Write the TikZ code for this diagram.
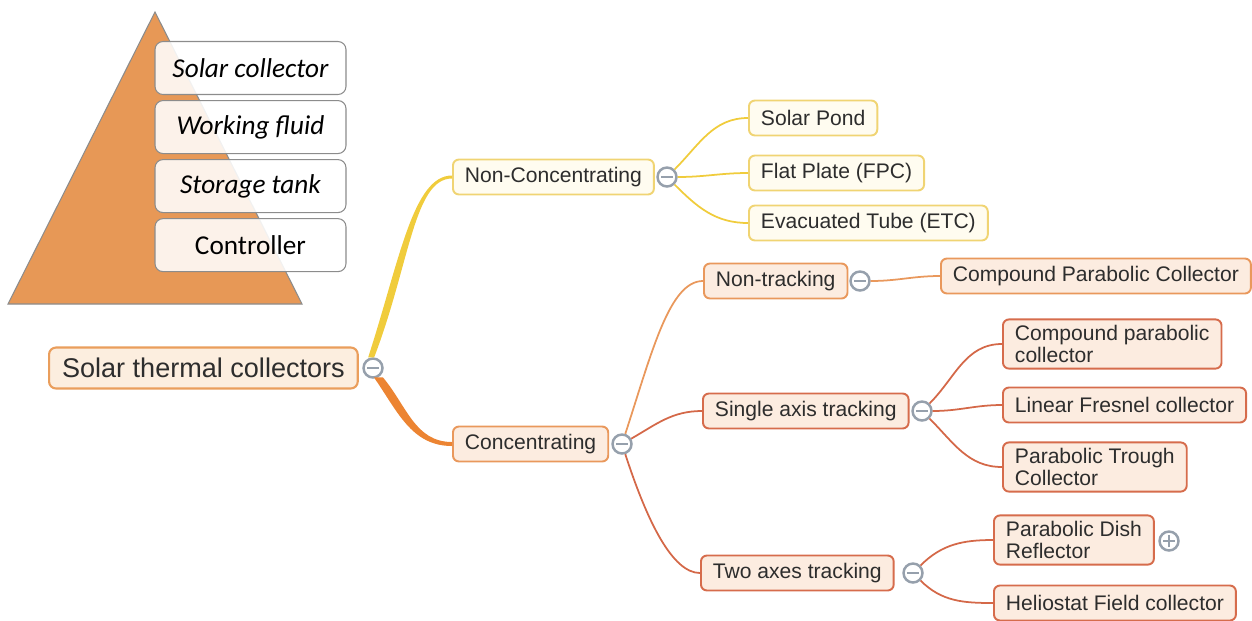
\documentclass[tikz,border=0pt]{standalone}
\usepackage{fontspec}
\setmainfont{Liberation Sans}
\newfontfamily\pyrfont{Carlito}
\usetikzlibrary{positioning,calc}

\definecolor{pyrorange}{RGB}{231,152,86}
\definecolor{pyrline}{RGB}{140,140,140}
\definecolor{rootline}{RGB}{234,158,92}
\definecolor{rootfill}{RGB}{252,238,223}
\definecolor{yelline}{RGB}{240,204,60}
\definecolor{yelbox}{RGB}{240,212,115}
\definecolor{yelfill}{RGB}{255,252,240}
\definecolor{orline}{RGB}{236,132,50}
\definecolor{orbox}{RGB}{233,152,92}
\definecolor{orfill}{RGB}{252,236,224}
\definecolor{redbox}{RGB}{214,108,76}
\definecolor{redline}{RGB}{212,104,72}
\definecolor{togline}{RGB}{150,160,172}
\definecolor{txt}{RGB}{45,45,45}

\begin{document}
\begin{tikzpicture}[x=0.02cm, y=0.02cm,
    pyrbox/.style={rectangle, rounded corners=0.16cm, draw=pyrline, fill=white, fill opacity=0.88,
      text opacity=1, line width=0.6pt, minimum width=3.82cm, minimum height=1.06cm,
      font=\pyrfont\fontsize{15.5}{18}\selectfont},
    topic/.style={rectangle, rounded corners=0.14cm, draw=rootline, fill=rootfill, line width=1.2pt,
      anchor=west, inner xsep=0.26cm, minimum height=0.82cm, text=txt, font=\fontsize{15.4}{18}\selectfont},
    item/.style={rectangle, rounded corners=0.12cm, line width=1.1pt, anchor=west, inner xsep=0.24cm,
      minimum height=0.7cm, align=left, text=txt, font=\fontsize{12}{12.5}\selectfont},
    yitem/.style={item, draw=yelbox, fill=yelfill},
    oitem/.style={item, draw=orbox, fill=orfill},
    ritem/.style={item, draw=redbox, fill=orfill},
    toggle/.style={circle, draw=togline, fill=white, line width=1.4pt, minimum size=0.38cm, inner sep=0pt,
      path picture={\draw[togline, line width=0.8pt] ([xshift=-0.12cm]path picture bounding box.center)
        -- ([xshift=0.12cm]path picture bounding box.center);}},
    plustoggle/.style={toggle, path picture={\draw[togline, line width=0.8pt]
        ([xshift=-0.12cm]path picture bounding box.center) -- ([xshift=0.12cm]path picture bounding box.center)
        ([yshift=-0.12cm]path picture bounding box.center) -- ([yshift=0.12cm]path picture bounding box.center);}},
    link/.style={line width=1pt},
    steep/.style={out looseness=1.3, in looseness=0.5}]

    \useasboundingbox (0,0) rectangle (1252,-620);

    % pyramid
    \filldraw[fill=pyrorange, draw=pyrline, line width=0.6pt] (155,-12) -- (302,-304) -- (8,-304) -- cycle;
    \node[pyrbox] (sc) at (250.5,-68) {\itshape Solar collector};
    \node[pyrbox, below=0.1cm of sc] (wf) {\itshape Working fluid};
    \node[pyrbox, below=0.1cm of wf] (st) {\itshape Storage tank};
    \node[pyrbox, below=0.1cm of st] (ctl) {Controller};

    % root
    \node[topic] (root) at (48,-368) {Solar thermal collectors};
    \node[toggle] (rt) at (373,-368) {};

    % non-concentrating
    \node[yitem] (nc) at (452,-177) {Non-Concentrating};
    \node[toggle] (ncT) at (667,-177) {};
    \node[yitem] (sp) at (748,-118) {Solar Pond};
    \node[yitem] (fp) at (748,-173) {Flat Plate (FPC)};
    \node[yitem] (et) at (748,-223) {Evacuated Tube (ETC)};

    % concentrating
    \node[oitem] (conc) at (452,-444) {Concentrating};
    \node[toggle] (ct) at (622,-444) {};
    \node[oitem] (nt) at (703,-281) {Non-tracking};
    \node[toggle] (ntT) at (860,-281) {};
    \node[oitem] (cpc) at (940,-276) {Compound Parabolic Collector};
    \node[ritem] (sa) at (702,-411) {Single axis tracking};
    \node[toggle] (saT) at (922,-411) {};
    \node[ritem] (cp) at (1002,-344) {Compound parabolic\\collector};
    \node[ritem] (lf) at (1002,-405) {Linear Fresnel collector};
    \node[ritem] (pt) at (1002,-467) {Parabolic Trough\\Collector};
    \node[ritem] (ta) at (700,-573) {Two axes tracking};
    \node[toggle] (taT) at (913,-573) {};
    \node[ritem] (pd) at (993,-540) {Parabolic Dish\\Reflector};
    \node[plustoggle] (pdT) at (1169,-541) {};
    \node[ritem] (hf) at (993,-603) {Heliostat Field collector};

    % main branches
    \fill[yelline] ($(rt.100)+(-3,0)$) to[out=72,in=180,steep] ($(nc.west)+(0,1.5)$)
      -- ($(nc.west)+(0,-1.5)$) to[out=180,in=69,in looseness=1.3,out looseness=0.5] ($(rt.100)+(3,0)$) -- cycle;
    \fill[orline] ($(rt.-60)+(-4.5,0)$) to[out=-55,in=180] ($(conc.west)+(0,-2)$)
      -- ($(conc.west)+(0,2)$) to[out=180,in=-50] ($(rt.-60)+(4.5,0)$) -- cycle;

    % sub branches
    \draw[link, yelline] (ncT) to[out=45,in=180] (sp);
    \draw[link, yelline] (ncT) to[out=0,in=180] (fp);
    \draw[link, yelline] (ncT) to[out=-45,in=180] (et);
    \draw[link, orbox] (ct) to[out=72,in=180,steep] (nt);
    \draw[link, redline] (ct) to[out=30,in=180] (sa);
    \draw[link, redline] (ct) to[out=-72,in=180,steep] (ta);
    \draw[link, orbox] (ntT) to[out=0,in=180] (cpc);
    \draw[link, redline] (saT) to[out=45,in=180] (cp);
    \draw[link, redline] (saT) to[out=0,in=180] (lf);
    \draw[link, redline] (saT) to[out=-45,in=180] (pt);
    \draw[link, redline] (taT) to[out=45,in=180] (pd);
    \draw[link, redline] (taT) to[out=-45,in=180] (hf);
\end{tikzpicture}
\end{document}
